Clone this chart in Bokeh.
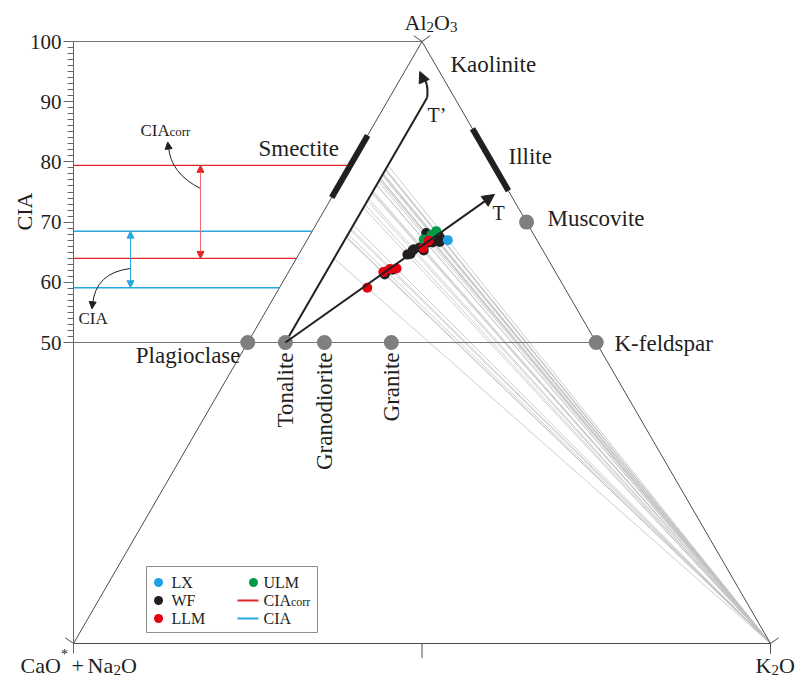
import math
from bokeh.plotting import figure
from bokeh.models import Range1d, FixedTicker, Label, Arrow, NormalHead
from bokeh.embed import file_html
from bokeh.resources import INLINE

FONT = "Liberation Serif"
INK = "#231f20"
RED = "#e3242b"
BLUE = "#2aa8e0"

# ---------------- data (A = Al2O3 = CIA, K = K2O, molar %, A-CN-K space) -------------
lx_cia = [67.0]
lx_k = [20.2]
wf_cia = [61.3, 64.7, 65.3, 65.3, 68.2, 66.7, 67.6, 67.3, 67.6, 67.3, 67.8, 66.5,
          66.6, 67.1, 64.6, 65.5, 61.8, 62.1, 65.8]
wf_k = [14.0, 16.0, 16.0, 17.6, 16.5, 19.2, 17.0, 17.6, 17.9, 18.4, 18.5, 17.4,
        18.2, 19.3, 15.6, 16.1, 14.0, 14.7, 16.8]
llm_cia = [59.1, 61.7, 62.2, 62.3, 65.7, 66.9]
llm_k = [12.6, 13.6, 14.3, 15.2, 17.3, 17.5]
ulm_cia = [67.1, 67.9, 68.5]
ulm_k = [16.7, 17.4, 17.8]

ref_names = ["Plagioclase", "Tonalite", "Granodiorite", "Granite", "K-feldspar", "Muscovite"]
ref_cia = [50, 50, 50, 50, 50, 70]
ref_k = [0.0, 5.4, 11.0, 20.6, 50.0, 30.0]

smectite_cia = [74.1, 84.4]   # on A-CN join
illite_cia = [75.2, 85.5]     # on A-K join

t_end_cia, t_end_k = 74.6, 23.1          # predicted weathering trend T
tp_cia = [50.0, 90.7]                      # ideal trend T' (constant K of tonalite)

cia_ticks = [50, 60, 70, 80, 90, 100]


def tx(cia, k):
    return k + cia / 2.0


# ---------------- figure ----------------
XPX, YPX = 6.97, 6.02   # px per unit
p = figure(width=795, height=677, output_backend="svg", toolbar_location=None,
           x_range=Range1d(-73 / XPX, 722 / XPX), y_range=Range1d(-34 / YPX, 643 / YPX),
           x_axis_location=None, y_axis_location="left",
           min_border_left=0, min_border_right=0, min_border_top=0, min_border_bottom=0,
           outline_line_color=None, background_fill_color="white", border_fill_color="white")
p.grid.visible = False

ax = p.yaxis[0]
ax.fixed_location = 0
ax.ticker = FixedTicker(ticks=cia_ticks, minor_ticks=list(range(50, 101)))
ax.bounds = (-1.7, 100)
ax.major_tick_out = 10
ax.major_tick_in = 0
ax.minor_tick_out = 6
ax.minor_tick_in = 0
ax.axis_line_color = "#666666"
ax.major_tick_line_color = "#666666"
ax.minor_tick_line_color = "#666666"
ax.major_label_text_font = FONT
ax.major_label_text_font_size = "21px"
ax.major_label_text_color = INK
ax.major_label_standoff = 2

# ---------------- derived values ----------------
all_cia = lx_cia + wf_cia + llm_cia + ulm_cia
all_k = lx_k + wf_k + llm_k + ulm_k
k_t = ref_k[1]
corr = [a * (100 - k_t) / (100 - k) for a, k in zip(all_cia, all_k)]
cia_min, cia_max = min(all_cia), max(all_cia)
corr_min, corr_max = min(corr), max(corr)

# grey projection lines from K2O apex to T'
p.segment(x0=[tx(c, k_t) for c in corr], y0=corr, x1=[100] * len(corr), y1=[0] * len(corr),
          line_color="#c2c2c2", line_width=0.8)

# triangle
p.line([0, 50, 100, 0], [0, 100, 0, 0], line_color="#4d4d4d", line_width=1)
p.segment(x0=[0, 0], y0=[100, 50], x1=[50, tx(50, ref_k[4])], y1=[100, 50],
          line_color="#777777", line_width=1)

# vertex ticks
dx, dy = 10 * math.cos(math.radians(35)) / XPX, 10 * math.sin(math.radians(35)) / YPX
p.segment(x0=[0, 100, 100, 50, 50, 50], y0=[0, 0, 0, 100, 100, 0],
          x1=[-dx, 100 + dx, 100, 50 - dx, 50 + dx, 50],
          y1=[dy, dy, -1.7, 100 + dy, 100 + dy, -2.4],
          line_color="#4d4d4d", line_width=1)

# CIA / CIAcorr levels
p.segment(x0=[0, 0], y0=[corr_min, corr_max], x1=[corr_min / 2, corr_max / 2],
          y1=[corr_min, corr_max], line_color=RED, line_width=1.2)
p.segment(x0=[0, 0], y0=[cia_min, cia_max], x1=[cia_min / 2, cia_max / 2],
          y1=[cia_min, cia_max], line_color=BLUE, line_width=1.5)

xr, xb = 18.22, 8.18
p.add_layout(Arrow(start=NormalHead(size=7, fill_color=RED, line_color=RED),
                   end=NormalHead(size=7, fill_color=RED, line_color=RED),
                   x_start=xr, y_start=corr_min, x_end=xr, y_end=corr_max,
                   line_color="#ef6a6a", line_width=1))
p.add_layout(Arrow(start=NormalHead(size=7, fill_color=BLUE, line_color=BLUE),
                   end=NormalHead(size=7, fill_color=BLUE, line_color=BLUE),
                   x_start=xb, y_start=cia_min, x_end=xb, y_end=cia_max,
                   line_color=BLUE, line_width=1))

# curved pointer arrows
p.quadratic(x0=[18.22, 8.18], y0=[75.58, 62.29], x1=[13.63, 2.73], y1=[82.56, 56.31],
            cx=[13.92, 3.16], cy=[78.07, 61.63], line_color=INK, line_width=1)
p.add_layout(Arrow(end=NormalHead(size=7, fill_color=INK, line_color=INK),
                   x_start=13.66, y_start=82.0, x_end=13.52, y_end=83.3, line_alpha=0))
p.add_layout(Arrow(end=NormalHead(size=7, fill_color=INK, line_color=INK),
                   x_start=2.76, y_start=56.9, x_end=2.66, y_end=55.6, line_alpha=0))

# mineral bars
p.line([tx(c, 0) for c in smectite_cia], smectite_cia, line_color=INK, line_width=6)
p.line([tx(c, 100 - c) for c in illite_cia], illite_cia, line_color=INK, line_width=6)

# trends
p.line([tx(c, k_t) for c in tp_cia], tp_cia, line_color=INK, line_width=2)
p.bezier(x0=[tx(tp_cia[1], k_t)], y0=[tp_cia[1]], x1=[50.07], y1=[94.02],
         cx0=[50.93], cy0=[92.86], cx1=[50.6], cy1=[93.6], line_color=INK, line_width=2)
p.add_layout(Arrow(end=NormalHead(size=11, fill_color=INK, line_color=INK),
                   x_start=50.1, y_start=93.9, x_end=49.68, y_end=95.01, line_alpha=0))
p.add_layout(Arrow(end=NormalHead(size=12, fill_color=INK, line_color=INK),
                   x_start=tx(50, k_t), y_start=50, x_end=tx(t_end_cia, t_end_k), y_end=t_end_cia,
                   line_color=INK, line_width=2))

# reference compositions
p.scatter([tx(c, k) for c, k in zip(ref_cia, ref_k)], ref_cia, size=15,
          fill_color="#7f7f7f", line_color=None)


# samples
def pts(cia, k, color):
    p.scatter([tx(c, kk) for c, kk in zip(cia, k)], cia, size=10,
              fill_color=color, line_color=None)


pts(wf_cia, wf_k, INK)
pts(ulm_cia, ulm_k, "#009a49")
pts(llm_cia, llm_k, "#e60012")
pts(lx_cia, lx_k, "#1ea0e6")


# ---------------- texts ----------------
def lab(text, x, y, size, align="left", baseline="middle", angle=0.0, xo=0, yo=0):
    p.add_layout(Label(x=x, y=y, text=text, text_font=FONT, text_font_size=f"{size}px",
                       text_align=align, text_baseline=baseline, angle=angle,
                       x_offset=xo, y_offset=yo, text_color=INK))


# vertex labels
lab("Al", 50, 100, 22, xo=-17.5, yo=19)
lab("2", 50, 100, 15, xo=4.5, yo=14.7)
lab("O", 50, 100, 22, xo=12, yo=19)
lab("3", 50, 100, 15, xo=28, yo=14.7)

lab("CaO", 0, 0, 22, xo=-53, yo=-22)
lab("*", 0, 0, 14, xo=-12.5, yo=-11)
lab("+", 0, 0, 22, xo=-2, yo=-22)
lab("Na", 0, 0, 22, xo=14, yo=-22)
lab("2", 0, 0, 15, xo=40, yo=-26.3)
lab("O", 0, 0, 22, xo=47.5, yo=-22)

lab("K", 100, 0, 22, xo=-15, yo=-22)
lab("2", 100, 0, 15, xo=1, yo=-26.3)
lab("O", 100, 0, 22, xo=8.5, yo=-22)

# axis title
lab("CIA", -7.10, 71.76, 22, align="center", angle=math.pi / 2)

# minerals
lab("Kaolinite", 54.09, 96.18, 23)
lab("Smectite", 26.54, 82.23, 23)
lab("Illite", 62.41, 80.9, 23)
lab("Muscovite", 68.0, 70.6, 23)
lab("K-feldspar", 77.62, 49.83, 23)
lab("Plagioclase", 23.96, 47.84, 23, align="right")
for name, c, k in zip(ref_names[1:4], ref_cia[1:4], ref_k[1:4]):
    lab(name, tx(c, k), 48.34, 23, align="right", angle=math.pi / 2)

lab("T\u2019", 50.79, 87.87, 20)
lab("T", 60.11, 71.43, 20)

lab("CIA", 9.61, 85.22, 17)
lab("corr", 9.61, 85.22, 13, xo=29, yo=-1.3)
lab("CIA", 0.72, 53.99, 17)

# ---------------- legend ----------------
p.quad(left=[10.47], right=[35.01], bottom=[1.83], top=[12.79],
       fill_color="white", line_color="#8c8c8c", line_width=1)
p.scatter([12.2, 12.2, 12.2, 25.82], [10.13, 7.14, 4.15, 10.13], size=9,
          fill_color=["#1ea0e6", INK, "#e60012", "#009a49"], line_color=None)
p.segment(x0=[23.53, 23.53], y0=[7.14, 4.15], x1=[26.54, 26.54], y1=[7.14, 4.15],
          line_color=[RED, BLUE], line_width=2)
lab("LX", 14.06, 10.13, 16)
lab("WF", 14.06, 7.14, 16)
lab("LLM", 14.06, 4.15, 16)
lab("ULM", 27.26, 10.13, 16)
lab("CIA", 27.26, 7.14, 16)
lab("corr", 27.26, 7.14, 12, xo=27.5, yo=-1.3)
lab("CIA", 27.26, 4.15, 16)

open("out.html", "w").write(file_html(p, INLINE))
